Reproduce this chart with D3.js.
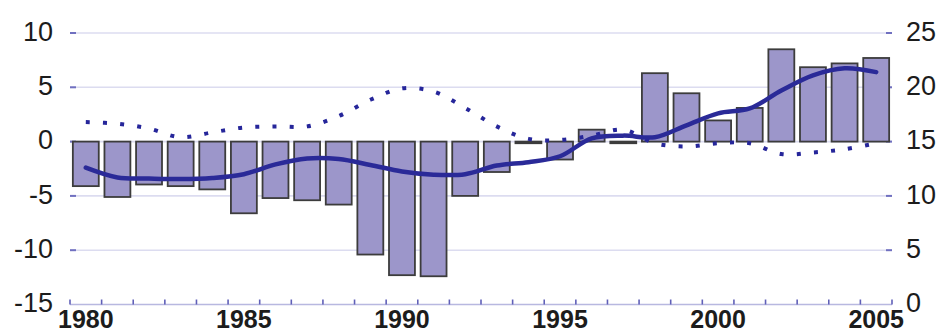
<!DOCTYPE html>
<html>
<head>
<meta charset="utf-8">
<script src="https://cdn.jsdelivr.net/npm/d3@7"></script>
<style>
  html, body { margin: 0; padding: 0; background: #ffffff; }
  svg { display: block; }
  text { font-family: "Liberation Sans", Arial, sans-serif; fill: #1c1c1c; }
</style>
</head>
<body>
<svg id="chart" width="942" height="334"></svg>
<script>
// Years on the category axis
const years = d3.range(1980, 2006);

// Annual balance (left axis), bars
const balance = [-4.1, -5.1, -3.95, -4.1, -4.4, -6.6, -5.2, -5.4, -5.8, -10.4,
                 -12.3, -12.4, -5.0, -2.8, -0.15, -1.65, 1.1, -0.15, 6.3, 4.45,
                 1.95, 3.1, 8.5, 6.85, 7.2, 7.7];

// Solid trend line (right axis)
const trendSolid = [12.6, 11.7, 11.6, 11.55, 11.65, 12.0, 12.9, 13.45, 13.4, 12.85,
                    12.25, 11.95, 12.0, 12.8, 13.1, 13.65, 15.3, 15.55, 15.4, 16.5,
                    17.6, 18.05, 19.7, 21.1, 21.75, 21.4];

// Dotted trend line (right axis)
const trendDotted = [16.8, 16.65, 16.2, 15.4, 15.85, 16.3, 16.4, 16.4, 17.35, 18.85,
                     19.9, 19.6, 18.1, 16.4, 15.25, 15.15, 15.55, 16.1, 14.85, 14.55,
                     14.85, 14.85, 13.85, 14.0, 14.3, 14.85];

// Axis tick labels
const leftTicks = [10, 5, 0, -5, -10, -15];
const rightTicks = [25, 20, 15, 10, 5, 0];
const yearLabels = [1980, 1985, 1990, 1995, 2000, 2005];

const svg = d3.select("#chart");
const plotLeft = 70, plotRight = 892, plotTop = 33, plotBottom = 304.5;

const x = d3.scaleBand()
  .domain(years)
  .range([plotLeft, plotRight])
  .paddingInner(0.18)
  .paddingOuter(0.09);

const yL = d3.scaleLinear().domain([-15, 10]).range([plotBottom, plotTop]);
const yR = d3.scaleLinear().domain([0, 25]).range([plotBottom, plotTop]);

const cx = d => x(d) + x.bandwidth() / 2;

// Horizontal gridlines
svg.append("g")
  .selectAll("line")
  .data(leftTicks.filter(t => t !== -15))
  .join("line")
  .attr("x1", plotLeft).attr("x2", plotRight)
  .attr("y1", d => yL(d)).attr("y2", d => yL(d))
  .attr("stroke", "#dcdcf0")
  .attr("stroke-width", 1.6);

// Short end ticks on both value axes
const gTicks = svg.append("g").attr("stroke", "#7070c0").attr("stroke-width", 2);
leftTicks.filter(t => t !== -15).forEach(t => {
  gTicks.append("line").attr("x1", plotLeft).attr("x2", plotLeft + 6)
    .attr("y1", yL(t)).attr("y2", yL(t));
  gTicks.append("line").attr("x1", plotRight - 6).attr("x2", plotRight)
    .attr("y1", yL(t)).attr("y2", yL(t));
});

// Left axis labels
svg.append("g")
  .selectAll("text")
  .data(leftTicks)
  .join("text")
  .attr("x", 53)
  .attr("y", d => yL(d) - 2)
  .attr("dy", "0.36em")
  .attr("text-anchor", "end")
  .style("font-size", "27px")
  .text(d => d);

// Right axis labels
svg.append("g")
  .selectAll("text")
  .data(rightTicks)
  .join("text")
  .attr("x", 906)
  .attr("y", d => yR(d) - 2)
  .attr("dy", "0.36em")
  .attr("text-anchor", "start")
  .style("font-size", "27px")
  .text(d => d);

// Bars
svg.append("g")
  .selectAll("rect")
  .data(years)
  .join("rect")
  .attr("x", d => x(d))
  .attr("width", x.bandwidth())
  .attr("y", (d, i) => yL(Math.max(0, balance[i])))
  .attr("height", (d, i) => Math.abs(yL(balance[i]) - yL(0)))
  .attr("fill", "#9c96ca")
  .attr("stroke", "#3c3c3c")
  .attr("stroke-width", 1.8);

// Category axis line with ticks at band boundaries
const step = x.step();
const gX = svg.append("g");
gX.append("line")
  .attr("x1", plotLeft).attr("x2", plotRight)
  .attr("y1", plotBottom).attr("y2", plotBottom)
  .attr("stroke", "#b8b8e0").attr("stroke-width", 1.6);
gX.selectAll("line.tick")
  .data(d3.range(years.length + 1))
  .join("line")
  .attr("class", "tick")
  .attr("x1", i => plotLeft + i * step).attr("x2", i => plotLeft + i * step)
  .attr("y1", plotBottom - 5).attr("y2", plotBottom)
  .attr("stroke", "#6060b8").attr("stroke-width", 1.6);

// Year labels
svg.append("g")
  .selectAll("text")
  .data(yearLabels)
  .join("text")
  .attr("x", d => cx(d))
  .attr("y", 328)
  .attr("text-anchor", "middle")
  .style("font-size", "25px")
  .style("font-weight", "bold")
  .text(d => d);

// Trend lines
const lineGen = vals => d3.line()
  .x((d, i) => cx(years[i]))
  .y(d => yR(d))
  .curve(d3.curveCatmullRom.alpha(0.5))(vals);

svg.append("path")
  .attr("d", lineGen(trendDotted))
  .attr("fill", "none")
  .attr("stroke", "#26269a")
  .attr("stroke-width", 4)
  .attr("stroke-dasharray", "4 13.2");

svg.append("path")
  .attr("d", lineGen(trendSolid))
  .attr("fill", "none")
  .attr("stroke", "#2a2a98")
  .attr("stroke-width", 4.5)
  .attr("stroke-linejoin", "round")
  .attr("stroke-linecap", "round");
</script>
</body>
</html>
